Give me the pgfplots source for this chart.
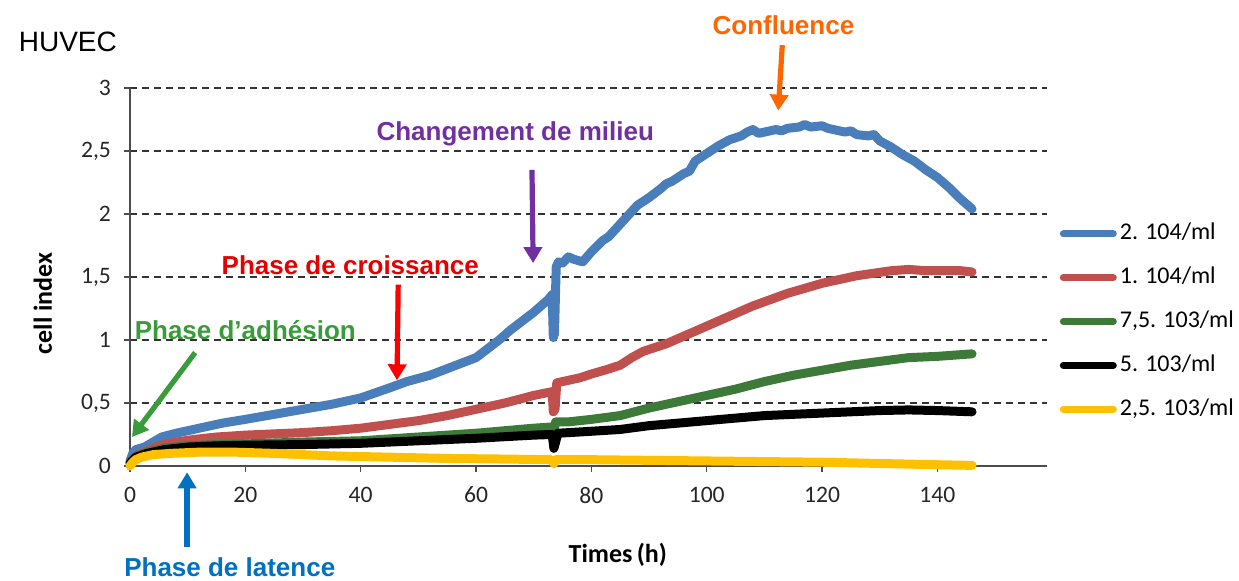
\documentclass[border=0pt]{standalone}
\usepackage{fontspec}
\setmainfont{Carlito}
\newfontfamily\arial{Liberation Sans}
\usepackage{pgfplots}
\pgfplotsset{compat=1.18}
\usetikzlibrary{arrows.meta,calc}
\definecolor{cblue}{RGB}{74,126,187}
\definecolor{cred}{RGB}{192,80,77}
\definecolor{cgreen}{RGB}{61,122,58}
\definecolor{cyellow}{RGB}{255,192,0}
\definecolor{aorange}{RGB}{255,102,0}
\definecolor{apurple}{RGB}{112,48,160}
\definecolor{ared}{RGB}{255,0,0}
\definecolor{agreen}{RGB}{57,155,57}
\definecolor{ablue}{RGB}{0,112,192}
\begin{document}
\begin{tikzpicture}
\begin{axis}[
  scale only axis, width=458.5pt, height=189pt,
  xmin=0, xmax=159, ymin=0, ymax=3,
  xtick={0,20,40,60,80,100,120,140},
  ytick={0,0.5,1,1.5,2,2.5,3},
  axis x line*=bottom, axis y line*=left,
  axis line style={-, black!70, line width=0.6pt},
  tick align=outside, major tick length=3pt,
  tick style={black!70, line width=0.6pt},
  ymajorgrids,
  major grid style={black!80, line width=0.6pt, dash pattern=on 3.5pt off 2.5pt},
  /pgf/number format/use comma,
  /pgf/number format/assume math mode=true,
  tick label style={font=\fontsize{11.8}{13}\selectfont, text=black!85},
  yticklabel style={xshift=-3pt},
  xticklabel style={yshift=-4pt},
  xlabel={Times\,(h)},
  ylabel={cell index},
  every axis x label/.style={at={(rel axis cs:0.532,-0.235)}, anchor=center, font=\bfseries\fontsize{13}{15}\selectfont},
  every axis y label/.style={at={(rel axis cs:-0.095,0.43)}, anchor=center, rotate=90, font=\bfseries\fontsize{13}{15}\selectfont},
  clip=false,
  legend style={at={(rel axis cs:1.014,0.643)}, anchor=north west, draw=none, fill=none,
    inner sep=0pt, outer sep=0pt, row sep=10.9pt, column sep=1.5pt,
    nodes={inner sep=0pt, text height=8.5pt, text depth=2.5pt, font=\fontsize{12}{14}\selectfont}},
  legend cell align=left,
  legend image code/.code={\draw[#1, line width=3.5pt, line cap=round] (0pt,0pt) -- (25pt,0pt);},
  every axis plot/.append style={line width=4.5pt, line join=round, line cap=round, no markers},
]
\coordinate (O) at (rel axis cs:0,0);
\addplot[cblue] coordinates {
(0,0.04) (0.5,0.10) (1,0.13) (2.5,0.15) (4,0.19) (5.5,0.23) (8,0.26) (12,0.30) (16,0.34)
(20,0.37) (25,0.41) (30,0.45) (35,0.49) (40,0.54) (45,0.62) (48,0.67) (52,0.72) (56,0.79)
(60,0.86) (62,0.93) (64,1.00) (66,1.08) (68,1.15) (70,1.22) (72.5,1.32) (73.2,1.36) (73.4,1.02) (73.6,1.05)
(73.9,1.58) (74.3,1.62) (75,1.61) (76,1.66) (77,1.64) (78.5,1.62) (80,1.70) (82,1.79) (83,1.82) (84,1.87)
(86,1.97) (88,2.07) (89,2.10) (90,2.13) (92,2.20) (93,2.24) (94,2.26) (96,2.32) (97,2.34) (98,2.42) (100,2.48)
(102,2.54) (104,2.59) (106,2.62) (107,2.65) (108,2.67) (109,2.64) (110,2.65) (112,2.67) (113,2.66)
(114,2.68) (116,2.69) (117,2.71) (118,2.69) (120,2.70) (121,2.68) (122,2.67) (124,2.65) (125,2.66)
(126,2.63) (128,2.62) (129,2.63) (130,2.58) (132,2.53) (134,2.47) (136,2.42) (138,2.35)
(140,2.29) (142,2.21) (144,2.12) (146,2.04)
};
\addlegendentry{2. 104/ml}
\addplot[cred] coordinates {
(0,0.03) (1,0.08) (3,0.12) (5,0.16) (8,0.19) (11,0.21) (15,0.23) (20,0.245) (25,0.255)
(30,0.265) (35,0.28) (40,0.30) (45,0.33) (50,0.36) (55,0.40) (60,0.45) (65,0.50) (70,0.56)
(73.2,0.59) (73.4,0.43) (73.7,0.45) (74,0.66) (76,0.68) (78,0.70) (80,0.73) (83,0.77)
(85,0.80) (87,0.86) (89,0.91) (91,0.94) (93,0.97) (96,1.03) (99,1.09) (102,1.15) (105,1.21)
(108,1.27) (111,1.32) (114,1.37) (117,1.41) (120,1.45) (123,1.48) (126,1.51) (129,1.53)
(132,1.55) (135,1.56) (138,1.55) (141,1.55) (144,1.55) (146,1.54)
};
\addlegendentry{1. 104/ml}
\addplot[cgreen] coordinates {
(0,0.03) (1,0.07) (3,0.11) (6,0.14) (10,0.16) (15,0.17) (20,0.175) (30,0.19) (40,0.20)
(50,0.23) (60,0.26) (70,0.30) (73.2,0.31) (73.5,0.28) (73.8,0.35) (76,0.35) (80,0.37)
(85,0.40) (90,0.46) (95,0.51) (100,0.56) (105,0.61) (110,0.67) (115,0.72) (120,0.76)
(125,0.80) (130,0.83) (135,0.86) (140,0.87) (146,0.89)
};
\addlegendentry{7,5. 103/ml}
\addplot[black] coordinates {
(0,0.02) (1,0.07) (3,0.10) (6,0.13) (10,0.15) (15,0.16) (20,0.165) (30,0.17) (40,0.18)
(50,0.20) (60,0.22) (70,0.245) (73.2,0.25) (73.5,0.14) (73.8,0.19) (74.2,0.26) (78,0.27)
(85,0.29) (90,0.32) (95,0.34) (100,0.36) (105,0.38) (110,0.40) (115,0.41) (120,0.42)
(125,0.43) (130,0.44) (135,0.445) (140,0.44) (146,0.43)
};
\addlegendentry{5. 103/ml}
\addplot[cyellow] coordinates {
(0,0.0) (0.5,0.03) (1,0.05) (2,0.07) (4,0.09) (7,0.10) (12,0.11) (18,0.11) (25,0.10)
(35,0.08) (45,0.07) (55,0.06) (65,0.055) (73,0.05) (73.5,0.02) (73.8,0.05) (80,0.05)
(90,0.045) (100,0.04) (110,0.035) (120,0.03) (130,0.02) (140,0.01) (146,0.005)
};
\addlegendentry{2,5. 103/ml}
% annotations
\node[anchor=west, font=\arial\fontsize{14}{16}\selectfont] at (-20.5,3.365) {HUVEC};
\node[font=\arial\bfseries\fontsize{13}{15}\selectfont, text=aorange] at (113.3,3.5) {Confluence};
\draw[aorange, line width=2.6pt, -{Triangle[width=9pt,length=8pt]}] (113.1,3.34) -- (112.4,2.82);
\node[font=\arial\bfseries\fontsize{13}{15}\selectfont, text=apurple] at (66.8,2.64) {Changement de milieu};
\draw[apurple, line width=2.6pt, -{Triangle[width=9pt,length=8pt]}] (69.7,2.35) -- (69.9,1.61);
\node[font=\arial\bfseries\fontsize{13}{15}\selectfont, text=ared!90!black] at (38.2,1.59) {Phase de croissance};
\draw[ared, line width=2.6pt, -{Triangle[width=9pt,length=8pt]}] (46.5,1.44) -- (46.3,0.68);
\node[font=\arial\bfseries\fontsize{13}{15}\selectfont, text=agreen] at (20,1.08) {Phase d’adhésion};
\draw[agreen, line width=2.6pt, -{Triangle[width=9pt,length=8pt]}] (11.3,0.90) -- (0.35,0.23);
\node[font=\arial\bfseries\fontsize{13}{15}\selectfont, text=ablue] at (17.3,-0.80) {Phase de latence};
\draw[ablue, line width=2.6pt, -{Triangle[width=9pt,length=8pt]}] (9.9,-0.64) -- (9.9,-0.05);
\end{axis}
\pgfresetboundingbox
\path[use as bounding box] ($(O)+(-65pt,-57.5pt)$) rectangle ++(619.5pt,290.5pt);
\end{tikzpicture}
\end{document}
